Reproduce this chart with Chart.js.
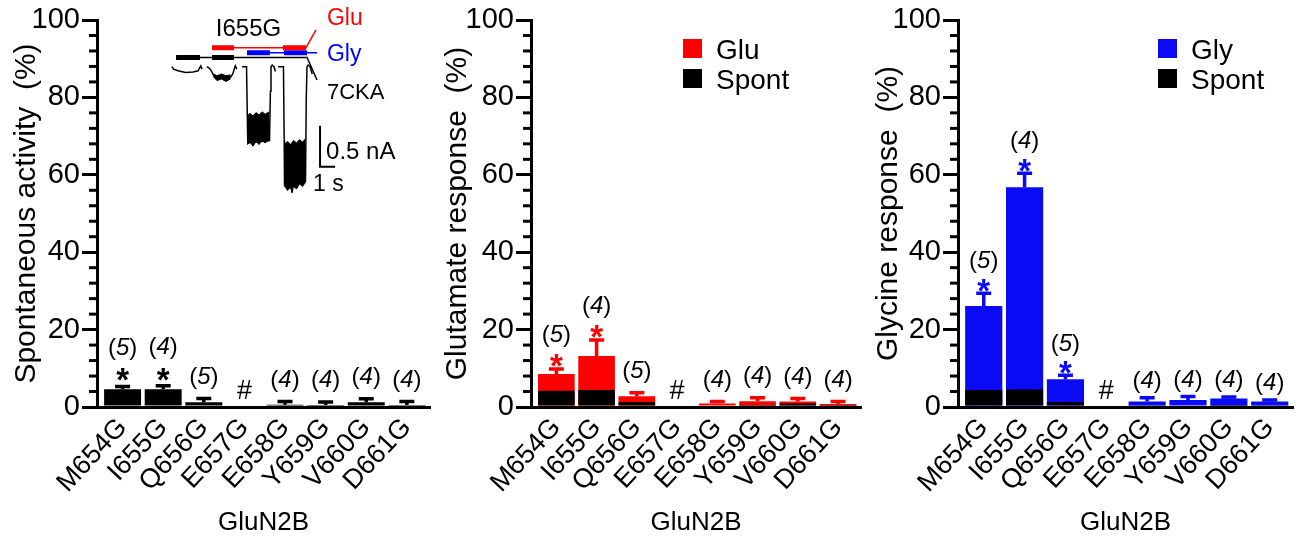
<!DOCTYPE html>
<html>
<head>
<meta charset="utf-8">
<script src="https://cdn.jsdelivr.net/npm/chart.js@4.4.1/dist/chart.umd.min.js"></script>
<style>
  body { margin: 0; background: #fff; }
  #wrap { position: relative; width: 1300px; height: 540px; overflow: hidden; }
  canvas { position: absolute; top: 0; }
</style>
</head>
<body>
<div id="wrap">
  <canvas id="spont" width="440" height="540" style="left:0"></canvas>
  <canvas id="glu" width="430" height="540" style="left:440px"></canvas>
  <canvas id="gly" width="430" height="540" style="left:870px"></canvas>
  <canvas id="trace" width="255" height="210" style="left:157px;top:0"></canvas>
</div>
<script>
// GluN2B M3 glycine scan
const mutants = ['M654G', 'I655G', 'Q656G', 'E657G', 'E658G', 'Y659G', 'V660G', 'D661G'];
const nCells = [5, 4, 5, null, 4, 4, 4, 4];   // null = no current (#)
const yTicks = [0, 20, 40, 60, 80, 100];

// spontaneous activity (% of max)
const spontMean = [4.6, 4.6, 1.2, 0, 0.6, 0.5, 1.2, 0.5];
const spontErr  = [5.3, 5.5, 2.2, null, 1.4, 1.3, 2.1, 1.4];
const spontStar = [true, true, false, false, false, false, false, false];

// glutamate response, with spontaneous part
const gluSpont = [4.2, 4.4, 1.3, 0, 0.4, 0.5, 0.9, 0.5];
const gluMean  = [8.5, 13.2, 2.8, 0, 0.9, 1.5, 1.4, 0.8];
const gluErr   = [9.8, 17.3, 3.7, null, 1.4, 2.4, 2.2, 1.4];
const gluStar  = [true, true, false, false, false, false, false, false];

// glycine response, with spontaneous part
const glySpont = [4.4, 4.5, 1.3, 0, 0.3, 0.4, 0.5, 0.3];
const glyMean  = [26.1, 56.8, 7.2, 0, 1.4, 1.8, 2.2, 1.4];
const glyErr   = [29.4, 60.4, 8.2, null, 2.4, 2.7, 2.6, 1.8];
const glyStar  = [true, true, true, false, false, false, false, false];

// inset trace, I655G: time (s), current (nA, baseline 0); null = gap between sweeps
const sweeps = [
  [0.0, 0.0], [0.1, -0.03], [0.4, -0.05], [0.9, -0.07], [1.4, -0.065], [1.75, -0.05], [1.85, -0.01], [1.92, 0.01], [2.0, -0.03],
  [2.1, null],
  [2.33, 0.0], [2.5, -0.02], [2.65, -0.06], [2.75, -0.1], [3.0, -0.14], [3.3, -0.12], [3.6, -0.15], [3.9, -0.13], [4.05, -0.09], [4.15, -0.03], [4.22, 0.01], [4.32, -0.03],
  [4.5, null],
  [4.67, 0.0], [4.97, 0.0], [5.02, -0.6], [5.05, -0.93], [6.5, -0.9], [6.56, -0.3], [6.6, 0.0], [6.68, 0.02], [6.8, 0.0], [6.9, -0.06],
  [7.0, null],
  [7.07, 0.0], [7.43, 0.0], [7.48, -0.9], [7.5, -1.45], [8.9, -1.4], [8.95, -0.4], [9.0, 0.0], [9.08, 0.02], [9.2, 0.0], [9.35, -0.09]
];
const noise2Top = [[2.75, -0.09], [3.0, -0.11], [3.3, -0.09], [3.6, -0.11], [3.9, -0.1]];
const noise2Bot = [[2.75, -0.12], [3.0, -0.17], [3.3, -0.15], [3.6, -0.18], [3.9, -0.15]];
const noise3Top = [[5.02, -0.6], [5.2, -0.57], [5.4, -0.6], [5.6, -0.56], [5.8, -0.59], [6.0, -0.55], [6.2, -0.58], [6.5, -0.55]];
const noise3Bot = [[5.02, -0.95], [5.2, -0.92], [5.4, -0.97], [5.6, -0.91], [5.8, -0.95], [6.0, -0.9], [6.2, -0.93], [6.5, -0.89]];
const noise4Top = [[7.5, -0.95], [7.7, -0.91], [7.9, -0.95], [8.1, -0.9], [8.3, -0.93], [8.5, -0.89], [8.7, -0.92], [8.9, -0.88]];
const noise4Bot = [[7.5, -1.45], [7.7, -1.51], [7.9, -1.47], [8.0, -1.54], [8.1, -1.46], [8.3, -1.49], [8.5, -1.43], [8.7, -1.46], [8.9, -1.41]];
const ckaOn  = [[0.27, 0.112], [1.87, 0.112], [2.2, null], [2.67, 0.112], [4.13, 0.112]];
const ckaBar = [[1.87, 0.112], [9.0, 0.112], [9.67, -0.162]];
const gluOn  = [[2.67, 0.23], [4.13, 0.23], [5.0, null], [7.4, 0.23], [8.93, 0.23]];
const gluBar = [[2.67, 0.23], [8.93, 0.23], [9.6, 0.448]];
const glyOn  = [[5.0, 0.17], [6.53, 0.17], [7.0, null], [7.47, 0.17], [9.0, 0.17]];
const glyBar = [[6.53, 0.17], [9.67, 0.17]];
const scaleBar = [[9.87, -0.72], [9.87, -1.22], [10.87, -1.22]];

const FONT = "'Liberation Sans', Arial, sans-serif";
Chart.defaults.font.family = FONT;
Chart.defaults.color = '#000';

const minorTicks = {
  id: 'minorTicks',
  afterDraw(chart) {
    const {ctx, scales: {y}, chartArea} = chart;
    ctx.save();
    ctx.strokeStyle = '#000';
    ctx.lineWidth = 3;
    for (let v = 4; v < 100; v += 4) {
      if (v % 20 === 0) continue;
      const py = y.getPixelForValue(v);
      ctx.beginPath();
      ctx.moveTo(chartArea.left - 8, py);
      ctx.lineTo(chartArea.left, py);
      ctx.stroke();
    }
    ctx.restore();
  }
};

const errorBars = {
  id: 'errorBars',
  afterDatasetsDraw(chart, args, o) {
    const {ctx, scales: {y}} = chart;
    const meta = chart.getDatasetMeta(o.dataset);
    ctx.save();
    ctx.strokeStyle = o.color;
    ctx.lineWidth = 3.5;
    o.tops.forEach((top, i) => {
      if (top == null) return;
      const bar = meta.data[i];
      const py = y.getPixelForValue(top);
      ctx.beginPath();
      ctx.moveTo(bar.x, bar.y);
      ctx.lineTo(bar.x, py);
      ctx.moveTo(bar.x - 7.5, py);
      ctx.lineTo(bar.x + 7.5, py);
      ctx.stroke();
    });
    ctx.restore();
  }
};

function drawN(ctx, n, x, cy) {
  const size = 24;
  const up = size + 'px ' + FONT, it = 'italic ' + size + 'px ' + FONT;
  ctx.font = up;
  const wl = ctx.measureText('(').width, wr = ctx.measureText(')').width;
  ctx.font = it;
  const wd = ctx.measureText(String(n)).width;
  let sx = x - (wl + wd + wr) / 2;
  const by = cy + 0.26 * size;
  ctx.textAlign = 'left';
  ctx.font = up; ctx.fillText('(', sx, by); sx += wl;
  ctx.font = it; ctx.fillText(String(n), sx, by); sx += wd;
  ctx.font = up; ctx.fillText(')', sx, by);
}

const marks = {
  id: 'marks',
  afterDatasetsDraw(chart, args, o) {
    const {ctx, scales: {x, y}} = chart;
    ctx.save();
    ctx.textBaseline = 'alphabetic';
    mutants.forEach((m, i) => {
      const px = x.getPixelForValue(i);
      ctx.fillStyle = '#000';
      if (nCells[i] == null) {
        ctx.textAlign = 'center';
        ctx.font = '27px ' + FONT;
        ctx.fillText('#', px, y.getPixelForValue(0) - 17 + 0.35 * 27);
        return;
      }
      const top = y.getPixelForValue(o.tops[i]);
      let labelY = top - o.plain;
      if (o.stars[i]) {
        ctx.fillStyle = o.color;
        ctx.textAlign = 'center';
        ctx.font = 'bold 33px ' + FONT;
        ctx.fillText('*', px, top - o.star + 0.57 * 33);
        labelY = top - o.label;
      }
      ctx.fillStyle = '#000';
      drawN(ctx, nCells[i], px, labelY);
    });
    ctx.restore();
  }
};

const boxLegend = {
  id: 'boxLegend',
  afterDraw(chart, args, o) {
    if (!o.show) return;
    const {ctx, chartArea} = chart;
    const items = chart.data.datasets.slice().reverse();
    ctx.save();
    items.forEach((ds, k) => {
      const bx = chartArea.left + o.x, by = chartArea.top + o.y + k * 30;
      ctx.fillStyle = ds.backgroundColor;
      ctx.fillRect(bx, by, 19, 19);
      ctx.fillStyle = '#000';
      ctx.font = '28px ' + FONT;
      ctx.textAlign = 'left';
      ctx.textBaseline = 'alphabetic';
      ctx.fillText(ds.label, bx + 33, by + 9.5 + 0.716 * 14);
    });
    ctx.restore();
  }
};

const pts = vals => vals.map((v, i) => ({x: i, y: v}));

function panel(id, p) {
  return new Chart(document.getElementById(id), {
    type: 'bar',
    data: {datasets: p.datasets},
    options: {
      responsive: false,
      animation: false,
      layout: {padding: {top: 20, right: p.padRight, left: 0, bottom: 0}},
      plugins: {
        legend: {display: false},
        tooltip: {enabled: false},
        errorBars: {dataset: p.errSet, tops: p.err, color: p.color},
        marks: {tops: p.err, stars: p.stars, color: p.color, star: p.gaps[0], label: p.gaps[1], plain: p.gaps[2]},
        boxLegend: {show: p.datasets.length > 1, x: p.legendX, y: 19}
      },
      scales: {
        x: {
          type: 'linear', min: -0.63, max: 7.57, offset: false,
          grid: {display: false, drawTicks: false},
          border: {display: true, color: '#000', width: 3},
          ticks: {
            stepSize: 1, includeBounds: false, autoSkip: false,
            minRotation: 47, maxRotation: 47, padding: 5,
            font: {size: 27},
            callback: v => mutants[v]
          },
          title: {display: true, text: 'GluN2B', font: {size: 26, lineHeight: 1}, padding: {top: 0, bottom: 4}},
          afterFit: s => { s.height = 133; }
        },
        y: {
          min: 0, max: 100,
          afterBuildTicks: s => { s.ticks = yTicks.map(v => ({value: v})); },
          grid: {drawOnChartArea: false, drawTicks: true, tickLength: 15, lineWidth: 3, color: '#000'},
          border: {color: '#000', width: 3},
          ticks: {padding: 2, font: {size: 29}},
          title: {display: true, text: p.yTitle, font: {size: 30, lineHeight: 1}, padding: {top: p.titlePad, bottom: 0}},
          afterFit: s => { s.width = p.axisWidth; }
        }
      }
    },
    plugins: [minorTicks, errorBars, marks, boxLegend]
  });
}

const barOpts = {borderWidth: 0, grouped: false, categoryPercentage: 1, barPercentage: 0.91};

panel('spont', {
  yTitle: 'Spontaneous activity  (%)', axisWidth: 97, padRight: 10, titlePad: 12,
  datasets: [{label: 'Spont', data: pts(spontMean), backgroundColor: '#000', ...barOpts}],
  errSet: 0, err: spontErr, stars: spontStar, color: '#000', gaps: [14, 38, 21]
});

panel('glu', {
  yTitle: 'Glutamate response  (%)', axisWidth: 91, padRight: 9, titlePad: 3, legendX: 152,
  datasets: [
    {label: 'Spont', data: pts(gluSpont), backgroundColor: '#000', order: 0, ...barOpts},
    {label: 'Glu', data: pts(gluMean), backgroundColor: '#ff0000', order: 1, ...barOpts}
  ],
  errSet: 1, err: gluErr, stars: gluStar, color: '#ff0000', gaps: [10.5, 33, 21]
});

panel('gly', {
  yTitle: 'Glycine response  (%)', axisWidth: 88, padRight: 7, titlePad: 4, legendX: 200,
  datasets: [
    {label: 'Spont', data: pts(glySpont), backgroundColor: '#000', order: 0, ...barOpts},
    {label: 'Gly', data: pts(glyMean), backgroundColor: '#0a0af5', order: 1, ...barOpts}
  ],
  errSet: 1, err: glyErr, stars: glyStar, color: '#0a0af5', gaps: [10, 31, 16]
});

// inset recording
const insetText = {
  id: 'insetText',
  afterDraw(chart, args, o) {
    const {ctx, scales: {x, y}} = chart;
    ctx.save();
    ctx.textBaseline = 'middle';
    o.items.forEach(it => {
      ctx.fillStyle = it.color;
      ctx.font = it.size + 'px ' + FONT;
      ctx.textAlign = it.align;
      ctx.fillText(it.text, x.getPixelForValue(it.t), y.getPixelForValue(it.i));
    });
    ctx.restore();
  }
};

const line = (arr, color, width, extra) => Object.assign({
  data: arr.map(p => ({x: p[0], y: p[1]})),
  borderColor: color, borderWidth: width, pointRadius: 0,
  fill: false, spanGaps: false, tension: 0, borderCapStyle: 'butt'
}, extra || {});

new Chart(document.getElementById('trace'), {
  type: 'line',
  data: {
    datasets: [
      line(noise2Top, '#000', 1, {fill: '+1', backgroundColor: '#000'}),
      line(noise2Bot, '#000', 1),
      line(noise3Top, '#000', 1, {fill: '+1', backgroundColor: '#000'}),
      line(noise3Bot, '#000', 1),
      line(noise4Top, '#000', 1, {fill: '+1', backgroundColor: '#000'}),
      line(noise4Bot, '#000', 1),
      line(sweeps, '#000', 1.5),
      line(ckaBar, '#000', 1.5),
      line(ckaOn, '#000', 5),
      line(gluBar, '#ff0000', 1.5),
      line(gluOn, '#ff0000', 5),
      line(glyBar, '#0000ff', 1.5),
      line(glyOn, '#0000ff', 5),
      line(scaleBar, '#000', 2)
    ]
  },
  options: {
    responsive: false,
    animation: false,
    layout: {padding: 0},
    plugins: {
      legend: {display: false},
      tooltip: {enabled: false},
      insetText: {items: [
        {text: 'I655G', t: 5.1, i: 0.46, color: '#000', size: 24, align: 'center'},
        {text: 'Glu', t: 10.33, i: 0.58, color: '#ff0000', size: 23, align: 'left'},
        {text: 'Gly', t: 10.33, i: 0.143, color: '#0000ff', size: 23, align: 'left'},
        {text: '7CKA', t: 10.33, i: -0.315, color: '#000', size: 22, align: 'left'},
        {text: '0.5 nA', t: 10.27, i: -1.05, color: '#000', size: 24, align: 'left'},
        {text: '1 s', t: 9.4, i: -1.44, color: '#000', size: 23, align: 'left'}
      ]}
    },
    scales: {
      x: {type: 'linear', display: false, min: -1, max: 16},
      y: {type: 'linear', display: false, min: -1.748, max: 0.813}
    }
  },
  plugins: [insetText]
});
</script>
</body>
</html>
